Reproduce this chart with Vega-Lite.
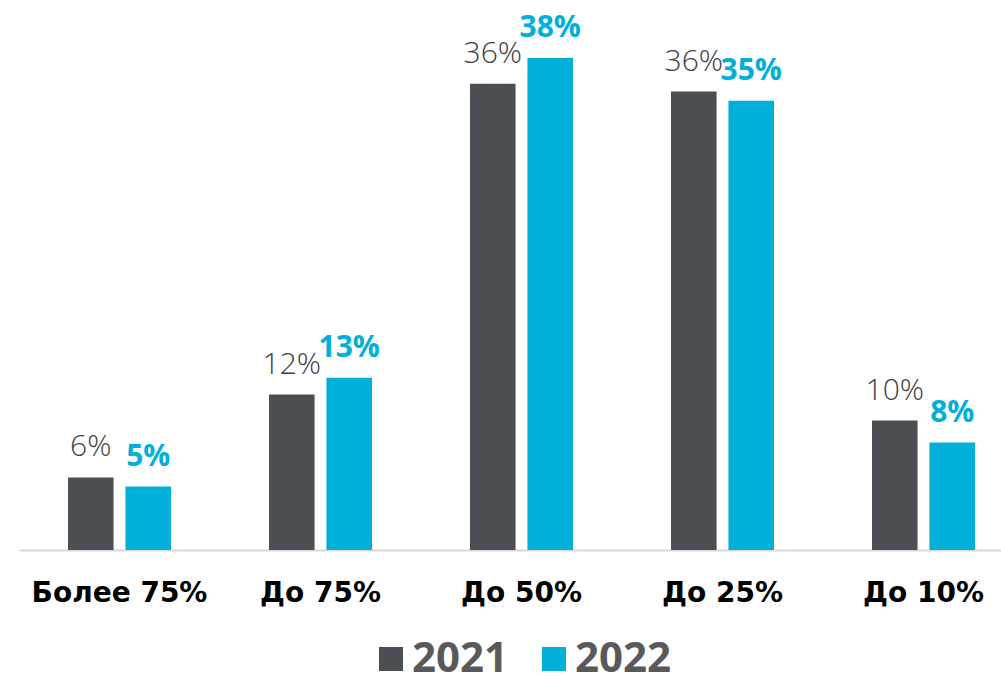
{
  "$schema": "https://vega.github.io/schema/vega-lite/v6.json",
  "autosize": "none",
  "width": 1005,
  "height": 518,
  "padding": {"left": 19, "top": 32, "right": 0, "bottom": 126},
  "background": "white",
  "config": {"view": {"stroke": null}, "font": "Open Sans"},
  "data": {
    "values": [
      {"category": "Более 75%", "year": "2021", "value": 5.6, "label": "6%"},
      {"category": "Более 75%", "year": "2022", "value": 4.9, "label": "5%"},
      {"category": "До 75%", "year": "2021", "value": 12.0, "label": "12%"},
      {"category": "До 75%", "year": "2022", "value": 13.3, "label": "13%"},
      {"category": "До 50%", "year": "2021", "value": 36.0, "label": "36%"},
      {"category": "До 50%", "year": "2022", "value": 38.0, "label": "38%"},
      {"category": "До 25%", "year": "2021", "value": 35.4, "label": "36%"},
      {"category": "До 25%", "year": "2022", "value": 34.7, "label": "35%"},
      {"category": "До 10%", "year": "2021", "value": 10.0, "label": "10%"},
      {"category": "До 10%", "year": "2022", "value": 8.3, "label": "8%"}
    ]
  },
  "encoding": {
    "x": {
      "field": "category", "type": "nominal", "sort": null,
      "scale": {"paddingInner": 0.4876, "paddingOuter": 0.2438},
      "axis": {
        "title": null, "labelAngle": 0, "ticks": false, "grid": false,
        "domainColor": "#d9d9d9", "domainWidth": 2,
        "labelFont": "DejaVu Sans", "labelFontWeight": "bold", "labelFontSize": 28,
        "labelColor": "#000000", "labelPadding": 29
      }
    },
    "xOffset": {"field": "year", "type": "nominal", "scale": {"paddingInner": 0.207, "paddingOuter": 0}},
    "y": {"field": "value", "type": "quantitative", "scale": {"domain": [0, 40], "nice": false}, "axis": null}
  },
  "layer": [
    {
      "mark": {"type": "bar"},
      "encoding": {
        "color": {
          "field": "year", "type": "nominal",
          "scale": {"domain": ["2021", "2022"], "range": ["#4b4e53", "#00b0d8"]},
          "legend": {
            "title": null, "orient": "none", "direction": "horizontal",
            "legendX": 351, "legendY": 606, "padding": 0,
            "symbolType": "square", "symbolSize": 576, "symbolStrokeWidth": 0,
            "labelFont": "Open Sans", "labelFontWeight": "bold", "labelFontSize": 42,
            "labelColor": "#595959", "labelOffset": 0, "columnPadding": 24
          }
        }
      }
    },
    {
      "transform": [{"filter": "datum.year == '2021'"}],
      "mark": {"type": "text", "baseline": "alphabetic", "dy": -21, "fontSize": 30, "fontWeight": 300, "color": "#404040", "font": "Open Sans"},
      "encoding": {"text": {"field": "label"}}
    },
    {
      "transform": [{"filter": "datum.year == '2022'"}],
      "mark": {"type": "text", "baseline": "alphabetic", "dy": -21, "fontSize": 30, "fontWeight": "bold", "color": "#00b0d8", "font": "Open Sans"},
      "encoding": {"text": {"field": "label"}}
    }
  ]
}
